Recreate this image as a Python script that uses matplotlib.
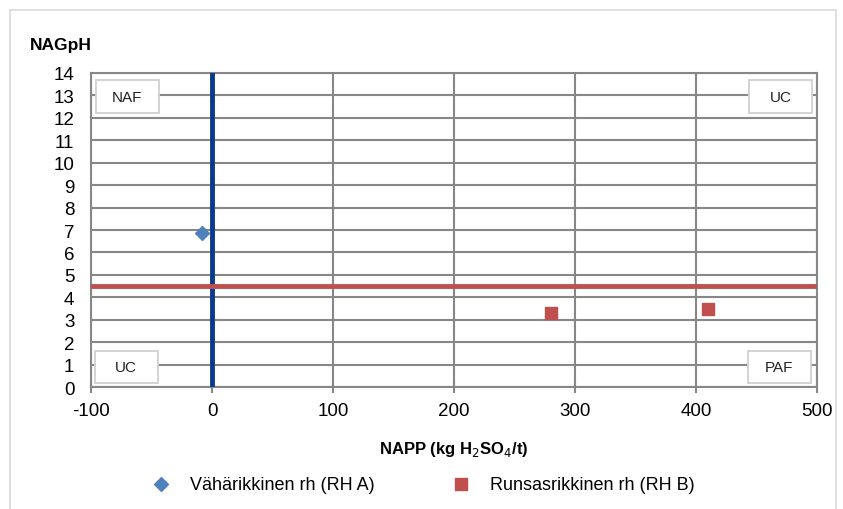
import matplotlib
matplotlib.use("Agg")
import matplotlib.pyplot as plt
from matplotlib.patches import Rectangle

# -----------------------------
# Data
# -----------------------------

series_a_name = "Vähärikkinen rh (RH A)"
series_a_x = [-8]
series_a_y = [6.85]

series_b_name = "Runsasrikkinen rh (RH B)"
series_b_x = [280, 410]
series_b_y = [3.3, 3.5]

napp_limit = 0
nagph_limit = 4.5

x_ticks = [-100, 0, 100, 200, 300, 400, 500]
y_ticks = list(range(0, 15))

# region labels: (text, x centre, y centre)
zone_labels = [("NAF", -70, 12.95), ("UC", 470, 12.95), ("UC", -71, 0.9), ("PAF", 469, 0.9)]

# -----------------------------
# Plot
# -----------------------------

plt.rcParams['font.family'] = ['Liberation Sans', 'DejaVu Sans']
plt.rcParams['axes.unicode_minus'] = False

fig = plt.figure(figsize=(8.43, 5.10), dpi=100)
ax = fig.add_axes([0.108, 0.239, 0.861, 0.616])

grid_col = "#878787"
ax.set_xlim(-100, 500)
ax.set_ylim(0, 14)
ax.set_xticks(x_ticks)
ax.set_yticks(y_ticks)
ax.grid(True, color=grid_col, linewidth=1.5)
ax.set_axisbelow(True)
for s in ax.spines.values():
    s.set_color(grid_col)
    s.set_linewidth(1.5)
ax.tick_params(axis="both", labelsize=13.5, color=grid_col, width=1.5, length=5)
ax.tick_params(axis="y", length=0, pad=12)
ax.tick_params(axis="x", direction="inout", length=8, pad=7)

ax.axvline(napp_limit, color="#0a3a8c", linewidth=3.5, zorder=3)
ax.axhline(nagph_limit, color="#c0504d", linewidth=3.5, zorder=3)

ax.scatter(series_a_x, series_a_y, marker="D", s=50, color="#4f81bd",
           label=series_a_name, zorder=4)
ax.scatter(series_b_x, series_b_y, marker="s", s=70, color="#c0504d",
           label=series_b_name, zorder=4)

box_w, box_h = 52, 1.45
for txt, x, y in zone_labels:
    ax.add_patch(Rectangle((x - box_w / 2, y - box_h / 2), box_w, box_h,
                           facecolor="white", edgecolor="#d0d0d0", linewidth=1.3, zorder=5))
    ax.text(x, y, txt, ha="center", va="center", fontsize=11, color="#222222", zorder=6)

ax.set_xlabel("NAPP (kg H$_2$SO$_4$/t)", fontsize=12, fontweight="bold", labelpad=14)
fig.text(0.036, 0.902, "NAGpH", fontsize=12.5, fontweight="bold")

fig.legend(loc="lower center", bbox_to_anchor=(0.497, 0.0), ncol=2,
           frameon=False, fontsize=13, handletextpad=0.6, columnspacing=3.8)

fig.patches.append(Rectangle((0.012, -0.1), 0.98, 1.078, transform=fig.transFigure,
                             fill=False, edgecolor="#d9d9d9", linewidth=1.2))

plt.savefig("out.png")
